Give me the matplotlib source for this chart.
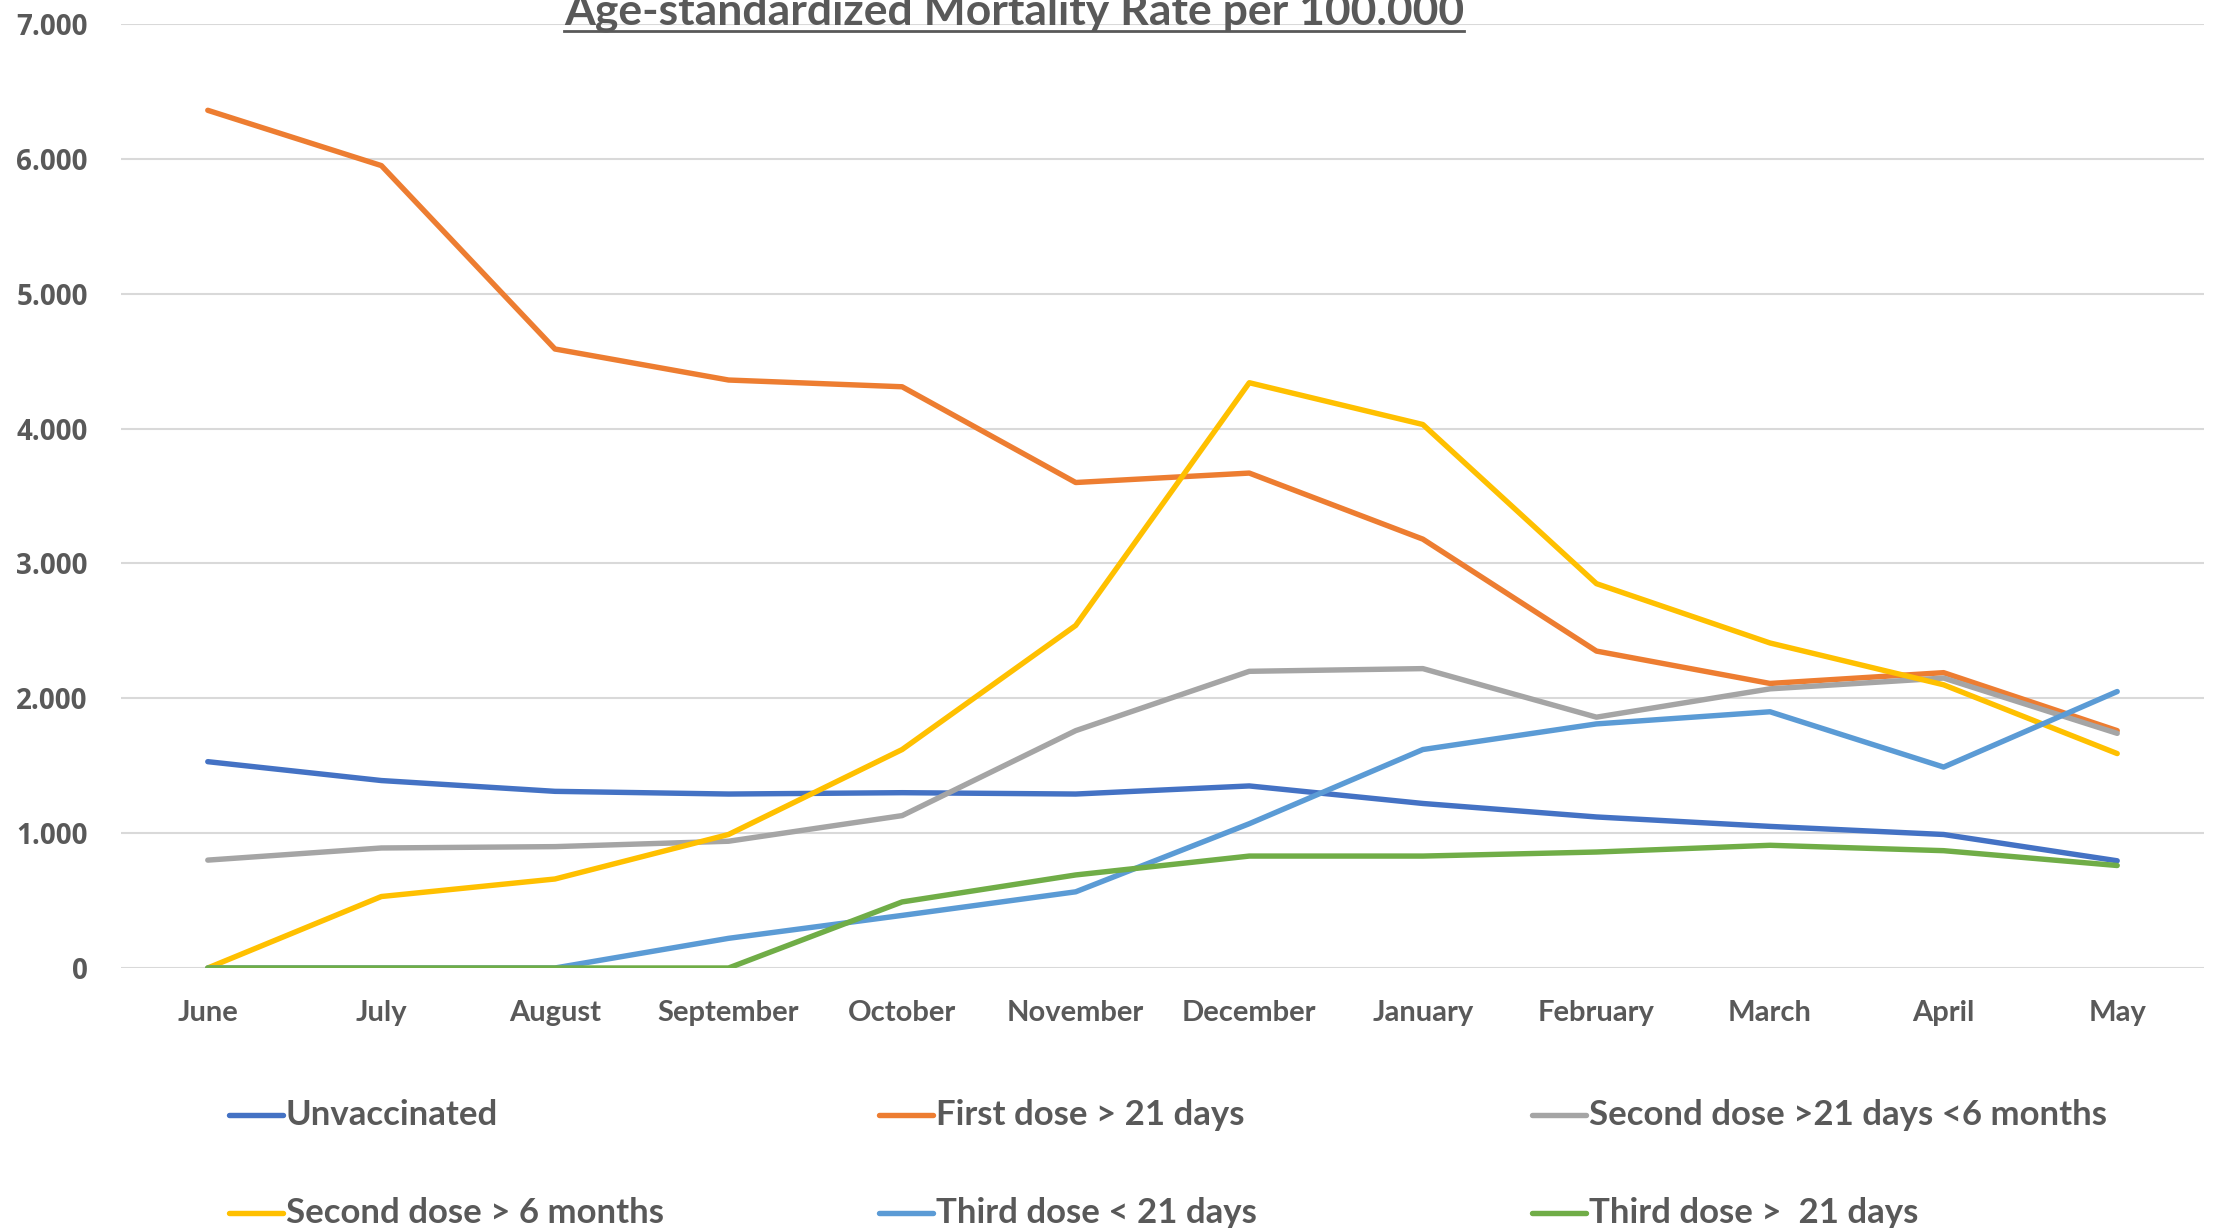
import matplotlib
matplotlib.use("Agg")
import matplotlib.pyplot as plt
from matplotlib.lines import Line2D
import numpy as np

months = ["June", "July", "August", "September", "October", "November",
          "December", "January", "February", "March", "April", "May"]

unvaccinated = [1530, 1390, 1310, 1290, 1300, 1290, 1350, 1220, 1120, 1050, 990, 795]
first_21 = [6360, 5950, 4590, 4360, 4310, 3600, 3670, 3180, 2350, 2110, 2190, 1760]
second_21_6m = [800, 890, 900, 940, 1130, 1760, 2200, 2220, 1860, 2070, 2150, 1740]
second_6m = [0, 530, 660, 990, 1620, 2540, 4340, 4030, 2850, 2410, 2100, 1590]
third_lt21 = [0, 0, 0, 220, 390, 565, 1070, 1620, 1810, 1900, 1490, 2050]
third_gt21 = [0, 0, 0, 0, 490, 690, 830, 830, 860, 910, 870, 760]

series = [unvaccinated, first_21, second_21_6m, second_6m, third_lt21, third_gt21]
labels = ["Unvaccinated", "First dose > 21 days", "Second dose >21 days <6 months",
          "Second dose > 6 months", "Third dose < 21 days", "Third dose >  21 days"]
colors = ["#4472C4", "#ED7D31", "#A5A5A5", "#FFC000", "#5B9BD5", "#70AD47"]

title = "Age-standardized Mortality Rate per 100.000"
yticks = [0, 1000, 2000, 3000, 4000, 5000, 6000, 7000]

text_col = "#595959"
W, H = 2216, 1228

fig = plt.figure(figsize=(W / 100, H / 100), dpi=100)
ax = fig.add_axes([121 / W, 1 - 968 / H, (2204 - 121) / W, (968 - 24) / H])

x = np.arange(len(months))
for vals, lab, col in zip(series, labels, colors):
    ax.plot(x, vals, color=col, lw=3.9, solid_capstyle="round",
            solid_joinstyle="round", label=lab)

ax.set_xlim(-0.5, len(months) - 0.5)
ax.set_ylim(0, 7000)
ax.set_yticks(yticks)
ax.set_yticklabels([f"{v:,}".replace(",", ".") for v in yticks],
                   fontfamily="Open Sans", fontweight="bold", fontsize=20,
                   color=text_col)
ax.set_xticks(x)
ax.set_xticklabels(months, fontfamily="Lato", fontweight="bold", fontsize=21,
                   color=text_col)
ax.tick_params(axis="y", length=0, pad=24)
ax.tick_params(axis="x", length=0, pad=23)
ax.grid(axis="y", color="#D9D9D9", lw=1.5)
ax.set_axisbelow(True)
for s in ax.spines.values():
    s.set_visible(False)

# title, underlined by hand
t = fig.text(1014 / W, 1 - 25 / H, title, ha="center", va="baseline",
             fontfamily="Lato", fontweight="bold", fontsize=32, color=text_col)
fig.canvas.draw()
bb = t.get_window_extent()
uy = 1 - 31 / H
fig.add_artist(Line2D([bb.x0 / W, bb.x1 / W], [uy, uy], color=text_col, lw=2))

# legend laid out in a 3 x 2 grid
col_x = [229, 879, 1532]
row_y = [1115, 1213]
for i, (lab, col) in enumerate(zip(labels, colors)):
    hx = col_x[i % 3]
    hy = 1 - row_y[i // 3] / H
    fig.add_artist(Line2D([hx / W, (hx + 54) / W], [hy, hy], color=col, lw=3.9,
                          solid_capstyle="round"))
    fig.text((hx + 57) / W, hy, lab, ha="left", va="center", fontfamily="Lato",
             fontweight="bold", fontsize=25, color=text_col)

fig.savefig("out.png", dpi=100)
